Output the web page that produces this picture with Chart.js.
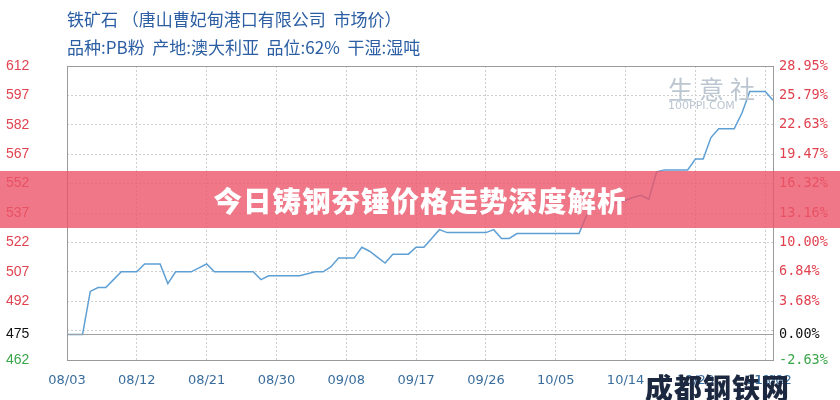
<!DOCTYPE html>
<html>
<head>
<meta charset="utf-8">
<script src="https://cdn.jsdelivr.net/npm/chart.js@4/dist/chart.umd.min.js"></script>
<style>
  body { margin: 0; background: #fff; }
  #wrap { position: relative; width: 840px; height: 400px; overflow: hidden; font-family: "Noto Sans CJK SC", sans-serif; }
  #c { position: absolute; left: 0; top: 0; }
  .head { position: absolute; left: 67px; color: #2b5ea3; font-size: 17px; white-space: pre; }
  #banner { position: absolute; left: 0; top: 171px; width: 840px; height: 57px; background: rgba(235,85,105,0.8);
    color: #fff; font-weight: 900; font-size: 28.5px; text-align: center; line-height: 57px; letter-spacing: 1px; }
  #wm1 { position: absolute; left: 668px; top: 70px; color: #bcc6d0; font-size: 25px; letter-spacing: 6px; }
  #wm2 { position: absolute; left: 668px; top: 99px; color: #bcc6d0; font-size: 11px; font-family: "DejaVu Sans"; }
  #wm3 { position: absolute; left: 645px; top: 367px; color: #1c2740; font-size: 28px; font-weight: 900; letter-spacing: 1px; }
</style>
</head>
<body>
<div id="wrap">
  <canvas id="c" width="840" height="400"></canvas>
  <div class="head" style="top:6px">铁矿石 （唐山曹妃甸港口有限公司  市场价）</div>
  <div class="head" style="top:34px">品种:PB粉  产地:澳大利亚  品位:62%  干湿:湿吨</div>
  <div id="wm1">生意社</div>
  <div id="wm2">100PPI.COM</div>
  <div id="banner">今日铸钢夯锤价格走势深度解析</div>
  <div id="wm3">成都钢铁网</div>
</div>
<script>
// daily prices 08/03 .. 11/02
var prices = [
  475, 475, 475, 497, 499, 499, 503, 507, 507, 507,
  511, 511, 511, 501, 507, 507, 507, 509, 511, 507,
  507, 507, 507, 507, 507, 503, 505, 505, 505, 505,
  505, 506, 507, 507, 509.5, 514, 514, 514, 519.5, 517.5,
  514.5, 511.5, 516, 516, 516, 519.5, 519.5, 524, 528.5, 527,
  527, 527, 527, 527, 527, 528.5, 524, 524, 526.5, 526.5,
  526.5, 526.5, 526.5, 526.5, 526.5, 526.5, 526.5, 536, 540, 541,
  542, 542, 543.5, 545, 546, 544, 558, 559, 559, 559,
  559, 564.5, 564.5, 575.5, 580, 580, 580, 588, 599, 599,
  599, 594.5
];
var basePrice = 475;
var leftTicks = [462, 475, 492, 507, 522, 537, 552, 567, 582, 597, 612];
var pctTicks = ['-2.63%', '0.00%', '3.68%', '6.84%', '10.00%', '13.16%', '16.32%', '19.47%', '22.63%', '25.79%', '28.95%'];
var extraGrid = [477];
var dayStep = 9;

// category labels: one per day starting 08/03
var dates = [];
var d0 = new Date(2020, 7, 3);
for (var i = 0; i < prices.length; i++) {
  var d = new Date(d0.getTime());
  d.setDate(d0.getDate() + i);
  dates.push(String(d.getMonth() + 1).padStart(2, '0') + '/' + String(d.getDate()).padStart(2, '0'));
}
var baseLine = prices.map(function () { return basePrice; });

function tickColor(v) {
  if (v === basePrice) return '#111';
  if (v < basePrice) return '#3aa64a';
  return '#e0434f';
}

var frame = {
  id: 'frame',
  afterDraw: function (chart) {
    var a = chart.chartArea, ctx = chart.ctx;
    ctx.save();
    ctx.strokeStyle = '#9a9a9a';
    ctx.lineWidth = 1;
    ctx.strokeRect(Math.round(a.left) + 0.5, Math.round(a.top) + 0.5, Math.round(a.right - a.left), Math.round(a.bottom - a.top));
    ctx.restore();
  }
};

new Chart(document.getElementById('c'), {
  type: 'line',
  data: {
    labels: dates,
    datasets: [{
      data: baseLine,
      borderColor: '#a0a0a0',
      borderWidth: 1.2,
      pointRadius: 0
    }, {
      data: prices,
      borderColor: '#5e9fd4',
      borderWidth: 1.5,
      pointRadius: 0,
      tension: 0
    }]
  },
  options: {
    animation: false,
    responsive: false,
    layout: { padding: { left: 6, top: 66, right: 0, bottom: 0 } },
    plugins: { legend: { display: false }, tooltip: { enabled: false } },
    scales: {
      x: {
        offset: false,
        border: { display: false, dash: [2, 2] },
        grid: { color: '#cfcfcf', drawTicks: false },
        afterBuildTicks: function (s) {
          s.ticks = s.ticks.filter(function (t) { return t.value % dayStep === 0 || t.value === prices.length - 1; });
        },
        afterFit: function (s) { s.height = 40; },
        ticks: {
          autoSkip: false, maxRotation: 0, padding: 13,
          color: '#3a6d9c', font: { family: 'DejaVu Sans', size: 13 },
          callback: function (v) { return dates[v]; }
        }
      },
      y: {
        min: 462, max: 612,
        border: { display: false, dash: [2, 2] },
        grid: { color: '#cfcfcf', drawTicks: false },
        afterBuildTicks: function (s) {
          s.ticks = leftTicks.concat(extraGrid).map(function (v) { return { value: v }; });
        },
        afterFit: function (s) { s.width = 61; },
        ticks: {
          crossAlign: 'far', padding: 0,
          font: { family: 'Liberation Sans', size: 14 },
          color: function (c) { return tickColor(c.tick.value); },
          callback: function (v) { return leftTicks.indexOf(v) >= 0 ? String(v) : ''; }
        }
      },
      y1: {
        position: 'right',
        min: 462, max: 612,
        border: { display: false },
        grid: { display: false, drawTicks: false },
        afterBuildTicks: function (s) {
          s.ticks = leftTicks.map(function (v) { return { value: v }; });
        },
        afterFit: function (s) { s.width = 67; },
        ticks: {
          padding: 6,
          font: { family: 'DejaVu Sans Mono', size: 13.5 },
          color: function (c) { return tickColor(c.tick.value); },
          callback: function (v) { return pctTicks[leftTicks.indexOf(v)]; }
        }
      }
    }
  },
  plugins: [frame]
});
</script>
</body>
</html>
